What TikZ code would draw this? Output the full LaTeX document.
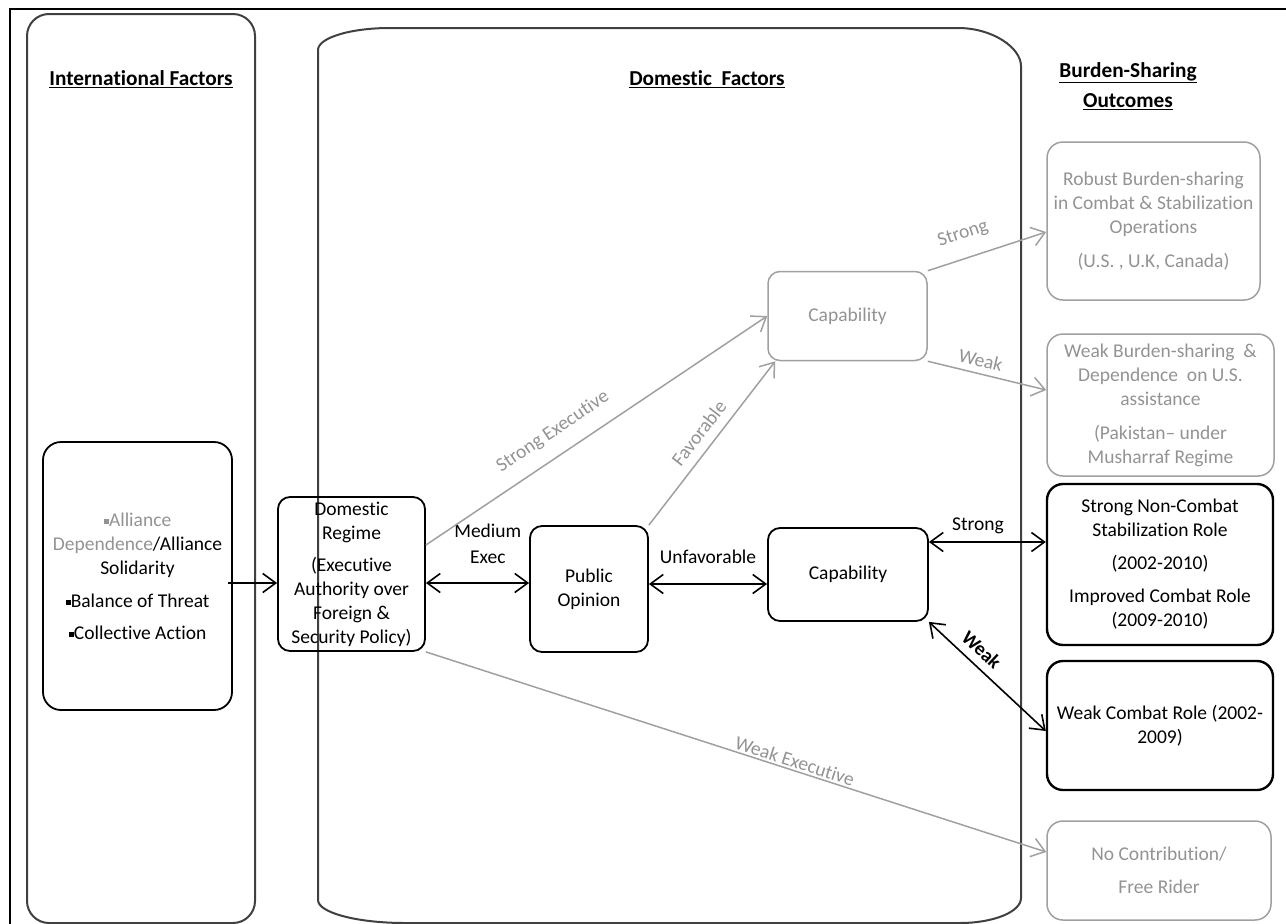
\documentclass[tikz,border=0pt]{standalone}
\usepackage{fontspec}
\setmainfont{Carlito}[Ligatures={TeX,NoCommon}]
\usetikzlibrary{arrows.meta,calc}
\definecolor{lg}{HTML}{A0A0A0}
\definecolor{lgt}{HTML}{939393}
\definecolor{pan}{HTML}{404040}
\newcommand\sqbul{\rule[0.26ex]{0.27em}{0.27em}}
\newcommand\bsz{\fontsize{19.5}{24}\selectfont}
\newcommand\tsz{\fontsize{21.3}{30}\selectfont}
\begin{document}
\begin{tikzpicture}[x=1pt,y=-1pt,
  >={Straight Barb[length=13pt,width=19pt]},
  every node/.style={font=\bsz, inner sep=2pt},
  bx/.style={draw, rounded corners=12pt, line width=1.8pt, align=center, inner sep=0pt},
  gbx/.style={bx, draw=lg, text=lgt, line width=1.5pt},
  ttl/.style={font=\tsz\bfseries, align=center},
  panel/.style={draw=pan, line width=2pt},
  sarrow/.style={->, line width=1.6pt},
  darrow/.style={<->, line width=1.6pt},
  garrow/.style={->, draw=lg, line width=1.5pt},
  glabel/.style={sloped, text=lgt}
]
\useasboundingbox (0,0) rectangle (1286,924);
% outer frame
\draw[line width=2.6pt] (10,9) rectangle (1320,950);
% panels
\draw[panel, rounded corners=22pt] (27,14) rectangle (255,923);
\draw[panel] (318,50) .. controls (318,37.85) and (350.2,28) .. (390,28)
  -- (958,28) .. controls (992.8,28) and (1021,47.9) .. (1021,66)
  -- (1021,898) .. controls (1021,911.8) and (993.7,923) .. (960,923)
  -- (405,923) .. controls (357,923) and (318,912.7) .. (318,900) -- cycle;
% titles
\node[ttl] (tint) at (141,79) {\underline{International Factors}};
\node[ttl] (tdom) at (707,79) {\underline{Domestic\ \ Factors}};
\node[ttl] (tout) at (1128,86) {\underline{Burden-Sharing}\\\underline{Outcomes}};
% boxes
\node[bx, minimum width=189pt, minimum height=268pt, rounded corners=18pt] (ib) at (137.5,576)
  {{\color{lgt}\sqbul Alliance}\\{\color{lgt}Dependence}/Alliance\\Solidarity\\[9pt]\sqbul Balance of Threat\\[8pt]\sqbul Collective Action};
\node[bx, minimum width=147pt, minimum height=154pt] (dr) at (351.5,574)
  {Domestic\\Regime\\[8pt](Executive\\Authority over\\Foreign \&\\Security Policy)};
\node[bx, minimum width=118pt, minimum height=126pt] (po) at (589,589) {Public\\Opinion};
\node[bx, minimum width=160pt, minimum height=93pt] (capl) at (848,574.5) {Capability};
\node[gbx, minimum width=159pt, minimum height=89pt] (capu) at (847.5,316) {Capability};
\node[gbx, minimum width=213pt, minimum height=158pt, rounded corners=16pt] (rb) at (1153.5,221)
  {Robust Burden-sharing\\in Combat \& Stabilization\\Operations\\[10pt](U.S. , U.K, Canada)};
\node[gbx, minimum width=227pt, minimum height=142pt, rounded corners=16pt] (wb) at (1160.5,405)
  {Weak Burden-sharing\ \ \&\\Dependence\ \ on U.S.\\assistance\\[10pt](Pakistan– under\\Musharraf Regime};
\node[bx, line width=2.4pt, minimum width=226pt, minimum height=161pt, rounded corners=16pt] (snc) at (1160,564.5)
  {Strong Non-Combat\\Stabilization Role\\[9pt](2002-2010)\\[9pt]Improved Combat Role\\(2009-2010)};
\node[bx, line width=2.4pt, minimum width=226pt, minimum height=129pt, rounded corners=16pt] (wcr) at (1160,725.5)
  {Weak Combat Role (2002-\\2009)};
\node[gbx, minimum width=224pt, minimum height=99pt, rounded corners=16pt] (nc) at (1159,870.5)
  {No Contribution/\\[9pt]Free Rider};
% black connectors
\coordinate (ia) at ([xshift=-5pt,yshift=-7pt]ib.east);
\draw[sarrow] (ia) -- (ia -| dr.west);
\coordinate (m1) at ([yshift=-9pt]dr.east);
\draw[darrow] (m1) -- node[pos=0.6, above=17pt, align=center] (lme) {Medium\\[2pt]Exec} (m1 -| po.west);
\coordinate (m2) at ([yshift=5pt]po.east);
\draw[darrow] (m2) -- node[midway, above=18pt] (lunf) {Unfavorable} (m2 -| capl.west);
\coordinate (s1) at ([yshift=32.5pt]capl.east);
\draw[darrow] (s1) -- node[pos=0.42, above=5pt] (lstr) {Strong} (s1 -| snc.west);
\draw[darrow] (capl.south east) -- node[sloped, pos=0.36, above=6pt, font=\bsz\bfseries] (lwk) {Weak} ([yshift=-5.5pt]wcr.west);
% gray connectors
\coordinate (se) at ([yshift=29pt]dr.east);
\draw[garrow] (se) -- node[glabel, pos=0.41, above=12pt] (lse) {Strong Executive} (capu.west);
\draw[garrow] (po.north east) -- node[glabel, pos=0.5, above=7pt] (lfav) {Favorable} ([xshift=8pt]capu.south west);
\draw[garrow] (dr.south east) -- node[glabel, pos=0.59, above=0pt] (lwe) {Weak Executive} ([yshift=18.5pt]nc.west);
\draw[garrow] (capu.north east) -- node[glabel, pos=0.36, above=13pt] (lgs) {Strong} ([yshift=-11pt]rb.west);
\draw[garrow] (capu.south east) -- node[glabel, pos=0.42, above=4pt] (lgw) {Weak} ([yshift=15pt]wb.west);
\end{tikzpicture}
\end{document}
